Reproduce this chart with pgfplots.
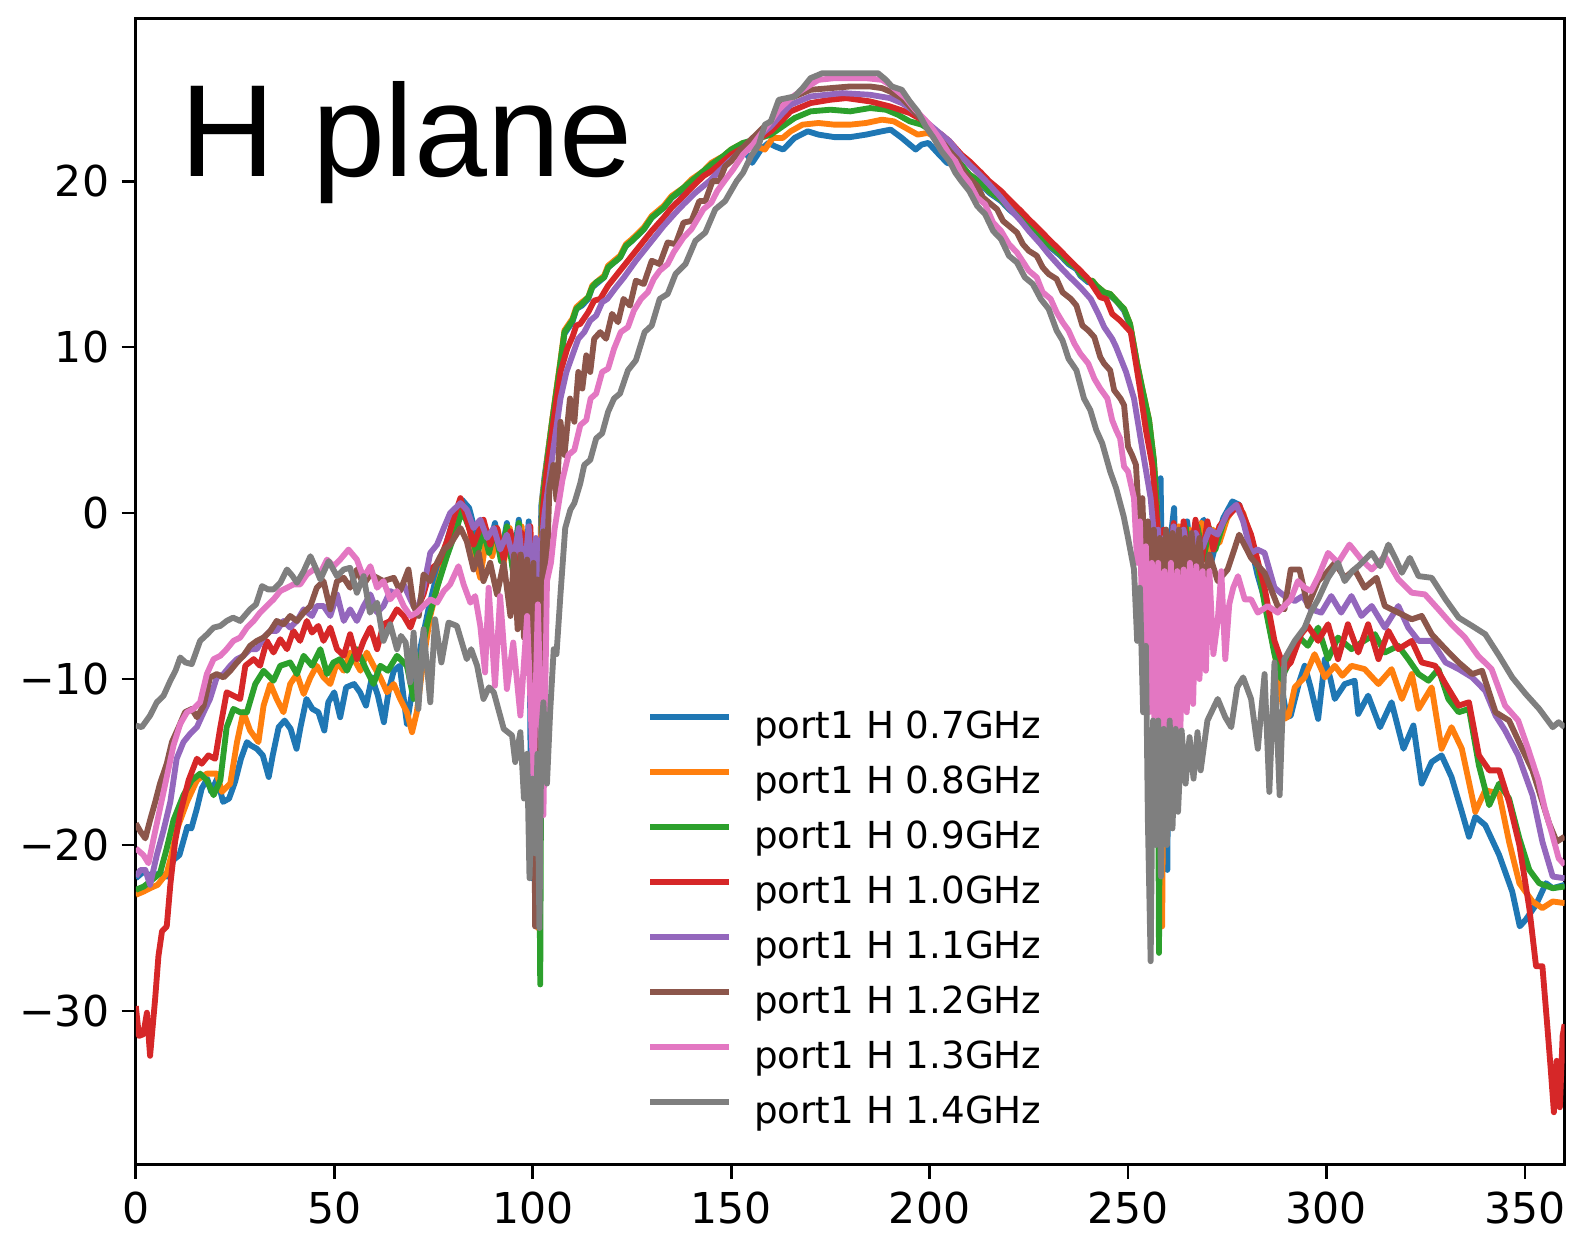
\documentclass[border=0pt]{standalone}
\usepackage{pgfplots}
\pgfplotsset{compat=1.18}
\usepackage{fontspec}
\setmainfont{DejaVu Sans}
\newfontfamily\arialfont{Liberation Sans}
\definecolor{c0}{HTML}{1F77B4}
\definecolor{c1}{HTML}{FF7F0E}
\definecolor{c2}{HTML}{2CA02C}
\definecolor{c3}{HTML}{D62728}
\definecolor{c4}{HTML}{9467BD}
\definecolor{c5}{HTML}{8C564B}
\definecolor{c6}{HTML}{E377C2}
\definecolor{c7}{HTML}{7F7F7F}
\begin{document}
\begin{tikzpicture}
\begin{axis}[
 scale only axis, width=403pt, height=323.4pt,
 xmin=0, xmax=360, ymin=-39.26, ymax=29.82,
 xtick={0,50,100,150,200,250,300,350},
 xticklabels={0,50,100,150,200,250,300,350},
 ytick={-30,-20,-10,0,10,20},
 yticklabels={−30,−20,−10,0,10,20},
 xtick pos=left, ytick pos=left,
 tick align=outside, major tick length=4pt,
 tick style={black, line width=0.8pt},
 axis line style={line width=0.8pt},
 ticklabel style={font=\fontsize{12}{14}\selectfont},
 every axis plot/.append style={line width=1.65pt, line join=round},
 legend cell align=left,
 legend image code/.code={\draw[#1] (0pt,3.2pt) -- (22.3pt,3.2pt);},
 legend style={draw=none, fill=none, at={(0.358,0.3966)}, anchor=north west,
   inner sep=0pt, outer sep=0pt, font=\fontsize{10.5}{12}\selectfont,
   nodes={inner sep=0pt, text height=8pt, text depth=2.5pt},
   row sep=5pt, /tikz/column 1/.style={column sep=6.2pt}},
]
\addplot[c0] coordinates {(0,-22.0)(2,-21.6)(4,-21.9)(6,-21.7)(8,-21.9)(9.5,-20.9)(11,-20.6)(13,-18.9)(14,-19.0)(15.4,-17.8)(16.6,-16.6)(18,-16.0)(19,-16.8)(20.5,-16.0)(22,-17.4)(23.5,-17.2)(25,-16.2)(26.5,-14.8)(28,-13.8)(29,-14.0)(30.5,-14.2)(32,-14.6)(33.5,-15.9)(34.5,-14.6)(36,-12.9)(37.5,-12.5)(39,-13.0)(40.5,-14.2)(41.5,-12.9)(43,-11.2)(44.5,-11.8)(46,-12.0)(47.5,-13.1)(48.5,-11.4)(50,-10.8)(51.5,-12.3)(53,-10.5)(55,-10.3)(56.5,-10.8)(58,-11.6)(59.5,-9.9)(61,-11.0)(62.5,-12.6)(63.8,-10.6)(65,-9.5)(66.5,-9.2)(68.3,-12.7)(70,-10.2)(72,-7.8)(74,-5.5)(76,-3.6)(78,-2.0)(80,-0.4)(82.2,0.8)(84,0.3)(86,-1.6)(87.5,-0.5)(89,-2.0)(90.5,-0.6)(92,-2.6)(93.5,-0.6)(95,-3.2)(96.5,-0.4)(98,-3.8)(99,-0.5)(99.7,-22.0)(100.4,-3.0)(101.2,-10.0)(102.2,0.5)(103,2.2)(104.9,5.5)(107,9.0)(108,10.8)(110,11.5)(111,12.3)(112.4,12.5)(114,12.9)(115,13.6)(116,13.8)(118,14.2)(119,14.8)(120,15.0)(122,15.4)(123.5,16.1)(125,16.4)(128,17.1)(130,17.8)(133,18.4)(135,19.0)(138,19.5)(140,20.0)(143,20.5)(145,21.0)(148,21.3)(150,21.8)(153,22.0)(155.3,21.1)(157.5,21.9)(159.4,22.3)(161,22.1)(163.1,21.9)(166,22.6)(169.3,23.0)(172,22.8)(176,22.65)(180,22.65)(184,22.8)(188,23.0)(190.2,23.1)(193,22.6)(196.5,21.9)(198,22.2)(199.7,22.3)(202,21.7)(204.4,21.1)(206,21.0)(208,20.7)(210,20.3)(213,19.8)(215,19.3)(218,18.8)(220,18.3)(223,17.7)(225,17.2)(228,16.6)(230,16.1)(233,15.5)(235,15.0)(237,14.7)(238,14.3)(240,13.9)(241,13.9)(242,13.6)(244,13.2)(245.5,13.1)(247,12.8)(249,12.2)(250.5,11.3)(252.3,8.9)(253.5,7.5)(255.3,5.5)(256.5,3.0)(257.3,0.5)(258.2,2.1)(258.8,-8)(259.4,-4.1)(259.9,-21.5)(260.5,-2)(261.6,0.3)(262.8,-9.2)(263.8,-1)(264.9,-0.5)(266.6,-4.1)(268,-0.8)(269.1,-0.4)(270.8,-3.1)(272.5,-1.5)(274,-0.3)(276.3,0.7)(278,0.5)(279.2,-0.5)(281,-2.0)(282.6,-3.7)(284.5,-5.3)(286,-7.1)(288.5,-10.2)(290,-12.3)(291,-12.2)(293.1,-10.2)(294.5,-9.2)(296,-10.5)(297.9,-12.4)(299.6,-8.8)(301,-10.0)(302.1,-11.2)(304.6,-10.3)(307.1,-10.1)(308,-12.1)(310.5,-11.0)(313.5,-12.9)(316.4,-11.4)(319.4,-14.2)(321.9,-12.8)(324,-16.3)(326.5,-15.0)(329,-14.6)(331.5,-15.9)(334.1,-18.0)(335.9,-19.5)(337.5,-18.3)(340,-18.8)(343.5,-20.6)(346.8,-22.8)(348.7,-24.9)(350.2,-24.5)(352.8,-23.6)(355.3,-22.3)(357,-22.6)(360,-22.4)};
\addlegendentry{port1 H 0.7GHz}
\addplot[c1] coordinates {(0,-23.0)(2,-22.8)(3.6,-22.6)(5.5,-22.4)(7.8,-21.7)(9,-20.6)(10.3,-19.1)(12.9,-17.4)(15.4,-16.1)(17.9,-15.7)(20.4,-15.7)(21.7,-16.8)(23.8,-16.3)(25.5,-13.8)(27.1,-12.0)(28.8,-13.1)(30.9,-13.8)(32.2,-11.6)(33.9,-10.3)(35.5,-11.2)(37.2,-12.0)(38.9,-10.3)(40.6,-9.7)(42.3,-10.9)(44,-9.9)(45.6,-9.2)(47.3,-9.9)(49,-10.3)(50.7,-9.0)(52.4,-9.5)(54,-8.4)(56.6,-9.5)(58.2,-8.4)(59.9,-9.2)(61.6,-9.9)(63.3,-10.8)(65,-10.3)(66.6,-11.2)(68.3,-12.0)(69.6,-13.2)(70.8,-12.0)(72.5,-8.8)(74.2,-6.2)(76.3,-4.1)(78.4,-2.4)(80.5,-0.4)(81.8,0.4)(83.4,0.0)(85.1,-2.4)(86.8,-3.9)(88.3,-1.5)(89.8,-2.6)(91.2,-1.0)(92.7,-3.0)(94.2,-0.9)(95.7,-3.6)(97.2,-0.8)(98.6,-5.0)(99.5,-1.5)(100.5,-9)(101.3,-25.0)(101.8,-4)(102.4,0.8)(103.2,2.4)(104.9,5.6)(107,9.2)(108,11.0)(110,11.7)(111,12.4)(112.4,12.7)(114,13.0)(115,13.7)(116,13.9)(118,14.3)(119,14.9)(120,15.1)(122,15.5)(123.5,16.2)(125,16.5)(128,17.2)(130,17.9)(133,18.5)(135,19.1)(138,19.6)(140,20.1)(143,20.6)(145,21.1)(148,21.5)(150,21.9)(153,22.3)(155,22.2)(158.5,21.9)(160.5,22.6)(163,22.6)(165,23.0)(168,23.4)(172,23.5)(176,23.4)(180,23.4)(184,23.5)(188,23.7)(191,23.6)(194,23.2)(197,22.8)(199.5,22.9)(202,22.6)(205,22.0)(208,20.9)(210,20.4)(213,19.9)(215,19.4)(218,18.9)(220,18.4)(223,17.8)(225,17.3)(228,16.7)(230,16.2)(233,15.6)(235,15.1)(237,14.8)(238,14.4)(240,14.0)(241,14.0)(242,13.7)(244,13.3)(245.5,13.2)(247,12.8)(249,12.3)(250.5,11.4)(252.3,9.0)(253.5,7.6)(255.3,5.6)(256.5,3.2)(257.3,0.2)(258,-6)(258.6,-24.9)(259.2,-3)(260.3,-1.5)(261.5,-4.5)(262.8,-0.8)(264,-4.8)(265.5,-1.0)(267,-3.2)(268.5,-0.6)(270,-2.5)(271.5,-1.0)(273,-1.8)(275,-0.3)(277,0.4)(279,0.0)(281,-1.5)(283,-3.5)(285,-6.0)(287,-8.5)(289.5,-12.4)(290.5,-12.2)(292,-10.5)(294.5,-9.9)(297,-8.5)(299.6,-9.9)(302.1,-9.2)(304,-9.8)(306.3,-9.2)(309.6,-9.4)(313.1,-10.3)(316.4,-9.4)(319,-11.2)(321.5,-9.7)(323.2,-11.8)(326.5,-10.5)(329,-14.2)(331.5,-12.9)(334.1,-14.2)(337.5,-18.0)(340,-16.7)(343.5,-16.9)(346,-19.8)(348.6,-22.3)(351.9,-23.4)(354.4,-23.8)(357,-23.4)(360,-23.5)};
\addlegendentry{port1 H 0.8GHz}
\addplot[c2] coordinates {(0,-22.7)(2,-22.5)(3.6,-22.2)(6.1,-21.7)(7.8,-20.2)(9.5,-18.5)(12,-17.0)(14.1,-16.1)(16.2,-15.7)(17.9,-16.1)(19.6,-17.0)(21.3,-16.1)(22.9,-12.9)(24.6,-11.8)(26.3,-12.0)(28,-12.0)(30.1,-10.3)(32.2,-9.5)(34.7,-10.1)(36.4,-9.2)(38.9,-9.0)(40.6,-9.7)(42.3,-8.6)(44.4,-9.2)(46.5,-8.2)(48.2,-9.7)(49.8,-9.0)(51.5,-8.8)(53.2,-9.5)(55.7,-8.2)(58.2,-9.5)(59.9,-10.3)(61.6,-9.2)(63.5,-9.5)(65.8,-8.6)(68.3,-9.2)(70,-11.2)(71.7,-8.8)(73.4,-6.7)(75.9,-4.5)(78.4,-2.6)(80.9,-0.9)(82.2,0.2)(84.3,-1.1)(86,-2.6)(87.5,-1.0)(89,-2.4)(90.5,-0.9)(92,-2.9)(93.5,-0.8)(95,-3.5)(96.5,-0.6)(98,-4.5)(99.2,-1.0)(100.3,-7)(101.2,-3)(101.9,-28.4)(102.4,0.6)(103.2,2.3)(104.9,5.5)(107,9.1)(108,10.9)(110,11.6)(111,12.3)(112.4,12.6)(114,13.0)(115,13.6)(116,13.9)(118,14.2)(119,14.8)(120,15.0)(122,15.4)(123.5,16.1)(125,16.4)(128,17.1)(130,17.8)(133,18.4)(135,19.0)(138,19.6)(140,20.0)(143,20.6)(145,21.0)(148,21.5)(150,21.9)(153,22.3)(156,22.5)(160,22.8)(163,23.3)(166,23.8)(170,24.2)(175,24.3)(180,24.2)(185,24.4)(189,24.3)(192,24.0)(195,23.6)(198,23.4)(200,23.1)(203,22.6)(206,21.6)(208,21.0)(210,20.4)(213,19.9)(215,19.4)(218,18.9)(220,18.4)(223,17.8)(225,17.3)(228,16.7)(230,16.2)(233,15.6)(235,15.1)(237,14.8)(238,14.4)(240,14.0)(241,14.0)(242,13.7)(244,13.3)(245.5,13.2)(247,12.8)(249,12.3)(250.5,11.4)(252.3,9.0)(253.5,7.6)(255.3,5.6)(256.5,3.2)(257.3,0.3)(257.8,-26.5)(258.3,-2)(259.5,-1.0)(260.8,-4.8)(262,-1.2)(263.3,-4.0)(264.6,-0.9)(266,-3.5)(267.5,-0.8)(269,-2.8)(270.5,-0.9)(272,-2.2)(274,-0.6)(276,0.2)(277.5,0.4)(279.5,-0.5)(281,-1.5)(283,-3.5)(284.5,-5.6)(286.9,-8.5)(288.6,-10.0)(290,-9.3)(291.5,-8.2)(293.2,-7.5)(295.3,-8.0)(297.9,-6.9)(300.4,-8.8)(302.9,-7.5)(306.3,-8.2)(308.8,-7.8)(312.2,-7.3)(314.7,-8.4)(318.1,-8.0)(320.6,-8.8)(323.2,-9.7)(325.7,-10.1)(328.2,-9.4)(330.7,-11.2)(333.3,-12.0)(335.9,-11.8)(338.4,-15.2)(341,-17.6)(343.5,-16.3)(346,-17.2)(348.6,-19.6)(351.1,-21.5)(353.6,-22.3)(357,-22.6)(360,-22.5)};
\addlegendentry{port1 H 0.9GHz}
\addplot[c3] coordinates {(0,-29.7)(0.8,-31.5)(1.9,-31.4)(2.8,-30.1)(3.6,-32.7)(4.9,-29.2)(5.7,-26.7)(6.6,-25.2)(7.8,-24.9)(8.7,-22.4)(9.9,-19.8)(11.2,-18.1)(13.3,-16.1)(15.4,-14.8)(16.6,-15.1)(18.3,-14.6)(20,-14.8)(21.3,-12.9)(22.9,-10.8)(24.6,-11.0)(26.3,-11.2)(27.6,-9.2)(29.7,-8.8)(31.3,-9.2)(33,-7.7)(34.7,-8.4)(36.4,-7.6)(38.1,-8.2)(39.7,-7.1)(41.4,-7.7)(43.1,-6.5)(44.4,-7.2)(46,-6.8)(47.3,-7.7)(49,-6.9)(50.7,-8.2)(52.4,-8.6)(54,-7.3)(55.7,-8.8)(57.4,-7.7)(59.1,-6.9)(60.8,-8.2)(62.4,-6.7)(64.1,-6.5)(65.8,-5.8)(67.5,-6.2)(69.2,-6.9)(70.8,-5.8)(72.5,-4.9)(74.2,-3.4)(76.3,-3.0)(78.4,-1.7)(80.5,0.0)(81.8,0.9)(83.4,-0.4)(85.1,-1.9)(87.6,-0.4)(89.3,-1.9)(91,-0.9)(92.7,-2.8)(94.4,-1.1)(96,-3.4)(97.3,-1.2)(98.6,-5.6)(99.4,-0.8)(100.7,-7.7)(101.4,-2)(101.9,-16.5)(102.5,0.0)(103.5,2.5)(105.5,6.0)(107,8.5)(108.7,9.9)(110,10.6)(111,11.3)(112,11.4)(114,12.1)(115.5,12.8)(117,12.9)(119,13.7)(121,14.3)(123,14.9)(125,15.5)(128,16.4)(130,17.0)(133,17.8)(135,18.4)(138,19.1)(140,19.6)(143,20.3)(145,20.6)(148,21.2)(150,21.6)(153,22.0)(155,22.3)(158,22.7)(160,23.0)(163,23.7)(165,24.2)(170,24.7)(175,24.9)(179,25.0)(185,24.8)(190,24.5)(195,24.1)(198,23.7)(200,23.3)(203,22.8)(205,22.4)(208,21.6)(210,21.2)(213,20.5)(215,20.0)(218,19.4)(220,18.9)(223,18.2)(225,17.7)(228,17.0)(230,16.5)(233,15.8)(235,15.3)(238,14.6)(240,14.1)(243,13.0)(244.5,12.9)(246,12.0)(248,11.6)(250.7,10.9)(252,9.0)(253,7.5)(254.5,5.0)(256.1,2.9)(257,0.5)(257.8,-2)(258.4,-16)(259,-1)(260.3,-3.8)(261.5,-0.6)(262.8,-3.9)(264,-0.5)(265.5,-3.5)(267,-0.4)(268.5,-3.0)(270,-0.5)(271.5,-2.2)(273,-0.8)(275,-0.2)(278,0.5)(281,-1.3)(284.4,-4.5)(286.9,-7.7)(289.4,-9.4)(291,-9.0)(293.6,-7.3)(295.3,-6.8)(297.9,-7.7)(300.4,-6.7)(302.9,-8.8)(305.4,-6.7)(308,-8.4)(310.5,-6.7)(313.1,-8.8)(315.6,-7.1)(318.1,-8.2)(321.5,-7.7)(324,-9.0)(327.4,-9.2)(330,-10.3)(333.3,-11.6)(335.9,-11.4)(338.4,-14.6)(341,-15.5)(343.5,-15.5)(346,-17.4)(348.6,-20.0)(351.1,-23.8)(352.8,-27.3)(354.4,-27.3)(355.5,-30.5)(356.5,-33.5)(357.3,-36.1)(358,-33.0)(358.8,-35.8)(359.5,-31.5)(360,-30.8)};
\addlegendentry{port1 H 1.0GHz}
\addplot[c4] coordinates {(0,-21.9)(1.2,-21.5)(2.4,-21.5)(3.6,-22.4)(5.3,-20.6)(7,-19.1)(8.7,-17.4)(10.3,-14.8)(12,-13.8)(13.7,-13.3)(15.4,-12.9)(17.1,-12.0)(18.7,-11.2)(20.4,-9.9)(22.1,-9.7)(23.8,-9.2)(25.5,-8.8)(27.1,-8.6)(28.8,-8.2)(30.5,-8.2)(32.2,-7.5)(33.9,-7.1)(35.5,-7.1)(37.2,-6.5)(38.9,-6.9)(40.6,-6.5)(42.3,-5.8)(44.4,-6.2)(45.6,-5.6)(47.3,-5.6)(49,-6.2)(50.7,-4.9)(52.4,-6.5)(54,-5.8)(55.7,-6.5)(57.4,-5.6)(59.1,-4.9)(60.8,-6.0)(62.4,-5.6)(64.1,-4.7)(65.8,-4.9)(67.5,-4.3)(69.2,-5.2)(70.8,-6.0)(72.5,-4.5)(74.2,-2.4)(75.9,-1.9)(77.6,-0.9)(79.2,0.0)(81.8,0.6)(83.4,0.2)(85.1,-0.9)(86.8,-0.4)(88.5,-1.5)(90.2,-0.9)(91.8,-2.2)(93.5,-1.3)(95.2,-2.8)(96.5,-0.9)(97.8,-4.0)(99,-0.8)(100,-6.5)(100.8,-1.5)(101.5,-17)(102.2,-2)(103,0.0)(105,3.5)(107,6.9)(108.5,8.5)(110,9.5)(111.5,10.5)(113,10.9)(114.5,11.6)(116,11.9)(117.5,12.7)(118.8,12.9)(121,13.6)(123,14.2)(126,15.2)(128,15.8)(131,16.7)(133,17.3)(136,18.1)(138,18.6)(141,19.3)(144.5,20.0)(147,20.6)(150,21.3)(153,21.9)(155,22.4)(158,22.9)(160,23.3)(163,24.1)(165,24.6)(170,25.1)(178,25.3)(185,25.2)(190,25.0)(193,24.7)(195,24.4)(198,23.8)(200,23.4)(203,22.8)(205,22.4)(208,21.5)(210,21.0)(213,20.3)(215,19.8)(218,19.0)(220,18.4)(223,17.6)(225,17.0)(228,16.2)(230,15.6)(233,14.8)(235,14.3)(238,13.6)(240.6,12.9)(242.5,12.0)(244,11.2)(246,10.5)(247,10.0)(249.5,8.5)(251.5,6.9)(253.5,4.0)(255.7,0.9)(256.8,-2)(257.6,-1)(258.4,-15)(259,-1.5)(260.2,-3.5)(261.5,-0.8)(262.8,-3.8)(264,-1.0)(265.5,-3.4)(267,-1.2)(268.7,-2.1)(270.5,-1.0)(272.6,-1.3)(275,0.0)(277.3,0.5)(279,-0.5)(281,-2.4)(282.6,-2.2)(284.4,-2.4)(286.9,-4.5)(289.4,-5.0)(292,-5.3)(294,-5.0)(296.1,-5.8)(298.7,-6.0)(301.2,-5.0)(303.7,-6.0)(306.3,-5.0)(308.8,-6.2)(311.4,-5.6)(314.7,-6.9)(318.1,-5.6)(320.6,-6.9)(323.2,-7.7)(326.5,-7.7)(330,-9.0)(333.3,-9.4)(336.7,-9.9)(340,-10.7)(342.6,-12.2)(345,-13.1)(348.3,-14.6)(351.9,-17.0)(354.4,-19.8)(357,-21.9)(360,-22.0)};
\addlegendentry{port1 H 1.1GHz}
\addplot[c5] coordinates {(0,-18.7)(1.2,-19.2)(2.4,-19.6)(3.6,-18.5)(4.9,-17.4)(6.1,-16.3)(7.8,-15.1)(9.1,-13.8)(10.8,-12.9)(12.4,-12.0)(14.1,-11.8)(15.4,-12.3)(17.1,-11.6)(18.7,-9.9)(20.4,-9.7)(22.1,-9.9)(23.8,-9.5)(25.5,-9.0)(27.1,-8.6)(28.8,-8.0)(30.5,-7.7)(32.2,-7.5)(33.9,-7.1)(35.5,-6.5)(37.2,-6.7)(38.9,-6.2)(40.6,-6.5)(42.3,-6.0)(44,-5.6)(45.6,-4.5)(47.3,-4.1)(49,-5.8)(50.7,-4.1)(52.4,-3.9)(54,-4.5)(55.7,-3.4)(57.4,-4.3)(59.1,-3.7)(60.8,-3.9)(62.4,-4.1)(65,-3.9)(66.6,-4.7)(68.7,-3.4)(70,-5.6)(71.3,-6.2)(72.5,-3.7)(74.2,-4.1)(75.9,-3.0)(77.6,-2.2)(79.2,-1.9)(81.8,-0.9)(83.4,-1.7)(85.1,-3.4)(86.4,-2.4)(87.6,-4.1)(89.3,-3.0)(91,-4.9)(92.7,-3.0)(94.4,-6.2)(95.3,-2.5)(96.2,-7.0)(97,-2.5)(97.8,-7.5)(98.6,-2.8)(99.4,-8.5)(100.2,-3)(100.6,-24.9)(101.2,-4)(101.8,-10)(102.7,-1.1)(103.5,-4)(104.2,1.5)(105.2,2.9)(106,0.8)(107,5.5)(108,3.5)(109.4,6.9)(110.5,5.5)(111.5,8.5)(112.5,7.5)(113.5,9.5)(114.5,8.5)(115.5,10.5)(117,10.9)(118.5,10.5)(120,12.0)(121.5,11.5)(122.9,12.9)(124.5,12.5)(126,14.0)(128,13.8)(130,15.2)(132,15.0)(134,16.3)(136,16.2)(138,17.5)(140,17.6)(142,18.8)(143.5,18.8)(145.3,20.0)(147,20.0)(148.5,20.9)(150,21.2)(152,21.8)(155,22.5)(158,23.2)(160,23.6)(162,24.4)(164,24.9)(167,25.2)(170,25.5)(175,25.6)(180,25.7)(185,25.7)(188,25.6)(190,25.4)(193,25.0)(195,24.5)(198,23.7)(200,23.2)(203,22.4)(205,21.8)(207,21.3)(208.5,20.6)(210,20.2)(212,19.7)(213.5,19.0)(215,18.7)(217,18.3)(218.5,17.6)(220,17.3)(222,16.9)(223.5,16.2)(225,15.8)(227,15.5)(228.5,14.8)(230,14.4)(232,14.1)(233.5,13.3)(235.6,12.9)(237,12.5)(238.5,11.3)(240,11.0)(241.5,10.6)(243,9.4)(244,9.0)(245.5,8.6)(246.5,7.4)(248.1,6.9)(249,6.5)(250,4.0)(251,3.5)(252,2.9)(252.8,-0.5)(253.6,0.9)(254.3,-4)(255,-0.5)(255.8,-6.5)(256.5,-1)(257.2,-9)(258,-1.5)(258.8,-7.5)(259.6,-1.0)(260.4,-6.5)(261.2,-1.2)(262,-5.8)(262.8,-1.0)(263.6,-5.0)(264.4,-1.5)(265.2,-4.5)(266,-1.2)(267,-4.0)(268,-1.5)(269,-4.5)(270.5,-2.5)(272.6,-4.1)(275.1,-3.4)(278,-1.3)(281,-2.7)(284.4,-3.6)(287.7,-5.6)(289.4,-5.8)(291,-3.4)(293.2,-3.4)(295.3,-5.6)(297.9,-4.1)(300,-3.6)(302.1,-3.0)(304.6,-3.9)(307.1,-3.4)(309.6,-4.5)(312.6,-3.9)(314.7,-5.6)(318.1,-6.0)(321.5,-6.4)(324,-6.2)(326.5,-7.3)(330,-8.2)(333.3,-9.0)(336.7,-9.7)(339.2,-9.5)(342.6,-12.0)(346,-12.5)(349.3,-14.2)(351.9,-15.5)(354.4,-17.4)(356.1,-18.7)(358,-19.8)(360,-19.5)};
\addlegendentry{port1 H 1.2GHz}
\addplot[c6] coordinates {(0,-20.2)(1.9,-20.6)(3.2,-21.1)(4.5,-19.6)(6.1,-17.8)(7.8,-15.9)(9.5,-14.0)(11.2,-12.7)(12.9,-12.0)(14.5,-11.8)(16.2,-11.4)(17.9,-9.7)(19.6,-8.8)(21.3,-8.6)(22.9,-8.2)(24.6,-7.7)(26.3,-7.5)(28,-6.9)(29.7,-6.5)(31.3,-6.0)(33,-5.6)(34.7,-5.2)(36.4,-4.7)(38.1,-4.5)(39.7,-4.3)(41.4,-4.3)(43.1,-3.7)(44.8,-3.4)(46.5,-3.6)(48.2,-2.8)(49.8,-3.2)(51.5,-2.8)(53.6,-2.2)(55.7,-2.8)(57.4,-3.9)(59.1,-3.2)(60.8,-4.5)(62.4,-4.1)(64.1,-5.2)(65.8,-4.7)(67.5,-5.6)(69.2,-6.2)(70.8,-6.0)(72.5,-5.6)(74.2,-5.2)(75.9,-5.4)(77.6,-4.7)(79.2,-4.3)(81.3,-3.2)(82.6,-4.3)(84.3,-5.4)(85.5,-5.0)(86.8,-6.8)(88,-9.6)(88.9,-4.5)(90.5,-10.4)(91.8,-5.0)(93.5,-10.6)(95.1,-7.8)(96.9,-12.2)(98.6,-6.2)(100.2,-16.2)(101.3,-5.5)(102.7,-18.2)(103.6,-4.1)(104.6,-3)(105.5,-1.0)(106.5,0.5)(107.5,2.0)(109,3.5)(110.5,3.8)(112,5.3)(113.5,5.6)(114.6,6.9)(116,7.2)(117.5,8.5)(119,8.7)(120.5,9.9)(122.2,10.9)(124,11.2)(125.5,12.2)(127.3,12.9)(129,13.3)(130.5,14.1)(132,14.6)(134,15.0)(135.5,15.7)(138,16.6)(140,17.1)(141.5,17.7)(143,18.3)(145,18.7)(146.5,19.4)(148.3,20.0)(150.5,20.7)(153,21.6)(155.5,22.2)(158,23.0)(160,23.6)(162,24.3)(165,25.0)(168,25.5)(172,26.1)(176,26.2)(180,26.2)(184,26.2)(188,26.1)(190,25.8)(192,25.4)(194,25.0)(196,24.4)(198,23.9)(200,23.4)(203,22.4)(205,21.6)(206.5,21.2)(208,20.5)(210,19.9)(212,19.0)(214,18.6)(216,17.5)(218,17.0)(220,16.2)(222,15.7)(225,14.6)(227,14.2)(228.5,13.3)(230.5,12.9)(232,12.1)(233.5,11.5)(235,11.0)(236.5,10.2)(238,9.6)(240,9.0)(241.5,8.1)(243,7.5)(244.8,6.9)(246,5.6)(247,5.0)(248,4.5)(249,2.8)(250,2.5)(251.5,0.9)(252.3,-3)(253,-0.5)(253.8,-9)(254.5,-2)(255.3,-12)(256,-3)(256.8,-14.5)(257.6,-3)(258.4,-15.5)(259.2,-3.5)(260,-14.5)(260.8,-3.0)(261.6,-14.0)(262.4,-3.5)(263.2,-13)(264,-3.4)(264.8,-12)(265.6,-3.0)(266.4,-11.5)(267.2,-3.2)(268,-10)(268.8,-3.5)(269.6,-9.5)(270.5,-3.5)(271.5,-8.5)(272.6,-6.5)(273.5,-3.5)(274.5,-8.8)(275.5,-5.5)(276.5,-4.5)(277.7,-3.8)(279.4,-5.2)(281,-5.2)(282.7,-6.0)(285.2,-5.6)(287.7,-6.0)(289.4,-5.6)(291,-5.2)(292.8,-4.1)(294.5,-4.5)(296.1,-4.7)(298,-3.8)(300.4,-2.4)(302.9,-3.0)(305.8,-1.9)(308.8,-2.8)(311.4,-3.4)(314.7,-2.6)(318.1,-4.0)(321.5,-4.8)(324.8,-4.9)(328.2,-5.8)(331.5,-6.7)(334.9,-7.5)(338.2,-8.6)(341.6,-9.4)(345,-11.6)(348.3,-12.5)(350.8,-14.2)(353.4,-16.1)(355,-17.8)(356.8,-19.3)(358.5,-20.8)(360,-21.2)};
\addlegendentry{port1 H 1.3GHz}
\addplot[c7] coordinates {(0,-12.8)(1.5,-12.9)(3.6,-12.2)(5.3,-11.4)(7,-11.0)(8.7,-10.1)(10,-9.5)(11.2,-8.7)(12.5,-9.0)(14.1,-9.1)(16.2,-7.7)(18,-7.3)(19.6,-6.9)(21.3,-6.8)(22.9,-6.5)(24.5,-6.3)(26.3,-6.5)(28.8,-5.8)(30.3,-5.5)(31.8,-4.4)(33.3,-4.6)(34.7,-4.6)(36.4,-4.2)(38.1,-3.4)(39.5,-3.8)(40.6,-4.2)(42.3,-3.5)(44,-2.6)(45.3,-3.3)(46.5,-4.0)(48.6,-2.9)(50.7,-3.8)(52.4,-3.4)(54,-3.3)(55.7,-4.8)(57.4,-3.8)(59,-6.0)(60.8,-5.4)(62.4,-7.7)(64.1,-6.7)(65.8,-8.2)(66.8,-7.4)(68,-7.8)(69.1,-10.2)(70,-7.2)(71.2,-11.8)(72.5,-7.0)(74.2,-11.4)(75.4,-6.4)(77,-9.0)(78.8,-6.6)(80.9,-6.8)(83.4,-8.8)(84.5,-8.2)(86,-9.2)(87.6,-11.2)(89,-10.5)(90.2,-10.8)(92.7,-13.0)(94.8,-13.4)(95.6,-15.0)(96.9,-13.2)(97.8,-17.2)(98.6,-14.5)(99.2,-22.0)(99.9,-16)(100.6,-20.5)(101.2,-14.5)(101.7,-25.0)(102.2,-13)(102.7,-11.4)(103.6,-16.3)(104.4,-12)(105.3,-8.2)(106,-8.5)(107,-4.9)(108.2,-0.9)(109.5,0.2)(110.5,0.6)(112,1.8)(113,2.9)(114.5,3.2)(116,4.5)(117.5,4.8)(119,6.1)(120.5,6.9)(122,7.2)(124,8.6)(126,9.2)(128.2,10.9)(130,11.3)(132,12.9)(134,13.2)(136,14.4)(138.5,15.0)(141,16.4)(143.5,16.9)(146,18.3)(148.5,18.8)(151.4,20.0)(153,20.5)(155,21.5)(157,22.2)(158.5,23.4)(160,23.6)(162,24.9)(166,25.1)(168,25.6)(170,26.2)(173,26.5)(180,26.5)(187,26.5)(189,26.1)(190.5,25.7)(193,25.5)(195,24.8)(197,24.2)(199,23.3)(201,22.6)(203,21.8)(205,21.2)(206.5,20.5)(208,20.0)(210,19.4)(212,18.5)(214,18.0)(216,17.0)(218,16.5)(220,15.5)(222,15.1)(224,14.2)(226,13.8)(228,12.9)(230,12.3)(232,11.0)(233.5,10.4)(235,9.3)(237,8.6)(238.9,6.9)(240.5,6.2)(242,5.0)(243.5,4.2)(245.5,2.5)(247,1.5)(248.9,-0.2)(250,-1.5)(251.5,-3.4)(252.3,-7.7)(253,-4.5)(253.8,-12)(254.5,-8)(255,-18.5)(255.7,-27.0)(256.3,-12.5)(257,-20)(257.6,-12.5)(258.3,-21.9)(259,-13)(259.8,-20)(260.5,-12.5)(261.2,-19)(262,-13)(262.6,-18)(263.5,-13.1)(264.5,-16.3)(265.5,-13.5)(266.5,-16.0)(267.5,-13.2)(268.3,-15.5)(270,-12.5)(272.6,-11.2)(274.5,-12.3)(276,-12.9)(277.5,-10.5)(279,-9.9)(281,-11.2)(282.7,-14.2)(284.4,-9.7)(285.6,-16.8)(286.9,-9.0)(288.2,-17.0)(289.4,-8.8)(292,-7.7)(294.5,-6.9)(296,-6.0)(297.9,-5.2)(300.4,-3.9)(302.9,-3.0)(304.6,-4.1)(306.5,-3.5)(308,-3.2)(311.4,-2.4)(313.5,-3.2)(315.6,-1.9)(317.5,-2.8)(319,-3.6)(321,-2.7)(323.2,-3.8)(326.5,-3.9)(330,-5.2)(333.3,-6.3)(336.7,-6.8)(340,-7.3)(343.5,-8.6)(346.8,-9.9)(350.2,-10.9)(353.6,-11.8)(357,-12.9)(358.5,-12.6)(360,-12.9)};
\addlegendentry{port1 H 1.4GHz}
\node[anchor=base west, inner sep=0pt, font=\arialfont\fontsize{37}{40}\selectfont] at (axis cs:11.2,20.27) {H plane};
\coordinate (sw) at (rel axis cs:0,0);
\coordinate (ne) at (rel axis cs:1,1);
\end{axis}
\path ([xshift=-38.3pt,yshift=-21.1pt]sw) rectangle ([xshift=6.6pt,yshift=5.1pt]ne);
\end{tikzpicture}
\end{document}
